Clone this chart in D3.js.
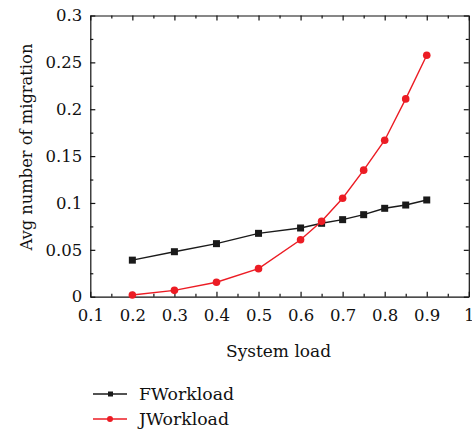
<!DOCTYPE html>
<html>
<head>
<meta charset="utf-8">
<script src="https://cdn.jsdelivr.net/npm/d3@7"></script>
<style>
  body { margin: 0; background: #fff; }
  svg text { font-family: "DejaVu Serif", serif; fill: #111; }
  .axis text { font-size: 16.5px; }
  .axis path, .axis line { stroke: #111; stroke-width: 1.2; }
</style>
</head>
<body>
<div id="vis"></div>
<script>
// values
var loads = [0.2, 0.3, 0.4, 0.5, 0.6, 0.65, 0.7, 0.75, 0.8, 0.85, 0.9];
var fWorkload = [0.039, 0.048, 0.0566, 0.0676, 0.0733, 0.0783, 0.0822, 0.0875, 0.0943, 0.0978, 0.1032];
var jWorkload = [0.0018, 0.0068, 0.0154, 0.0299, 0.0608, 0.0804, 0.105, 0.135, 0.1669, 0.211, 0.2576];
var xTicks = [0.1, 0.2, 0.3, 0.4, 0.5, 0.6, 0.7, 0.8, 0.9, 1];
var xMinor = [0.15, 0.25, 0.35, 0.45, 0.55, 0.65, 0.75, 0.85, 0.95];
var yTicks = [0, 0.05, 0.1, 0.15, 0.2, 0.25, 0.3];
var yMinor = [0.025, 0.075, 0.125, 0.175, 0.225, 0.275];
var seriesNames = ['FWorkload', 'JWorkload'];

(function() {
  var W = 472, H = 431;
  var left = 90.3, right = 468.8, top = 15.5, bottom = 296.7;
  var colors = ['#1a1a1a', '#ec1c24'];

  var svg = d3.select('#vis').append('svg').attr('width', W).attr('height', H);

  var x = d3.scaleLinear().domain([0.1, 1]).range([left, right]);
  var y = d3.scaleLinear().domain([0, 0.3]).range([bottom, top]);
  var fmt = function(d) { return String(+d.toFixed(3)); };

  var axes = [
    {ax: d3.axisBottom(x), t: 'translate(0,' + bottom + ')', major: xTicks, minor: xMinor, pad: 13},
    {ax: d3.axisTop(x), t: 'translate(0,' + top + ')', major: xTicks, minor: xMinor, pad: 0},
    {ax: d3.axisLeft(y), t: 'translate(' + left + ',0)', major: yTicks, minor: yMinor, pad: 8},
    {ax: d3.axisRight(y), t: 'translate(' + right + ',0)', major: yTicks, minor: yMinor, pad: 0}
  ];
  axes.forEach(function(a) {
    var g = svg.append('g').attr('class', 'axis').attr('transform', a.t);
    g.call(a.ax.tickValues(a.major).tickSizeInner(-5).tickSizeOuter(0).tickPadding(a.pad)
      .tickFormat(a.pad ? fmt : ''));
    g.attr('font-family', null).attr('font-size', null);
    var m = svg.append('g').attr('class', 'axis').attr('transform', a.t);
    m.call(a.ax.tickValues(a.minor).tickSizeInner(-3).tickSizeOuter(0).tickFormat(''));
    m.select('.domain').remove();
  });

  var line = d3.line().x(function(d) { return x(d[0]); }).y(function(d) { return y(d[1]); });
  var data = [fWorkload, jWorkload].map(function(vals) {
    return loads.map(function(l, i) { return [l, vals[i]]; });
  });

  data.forEach(function(pts, k) {
    svg.append('path').datum(pts).attr('d', line).attr('fill', 'none')
      .attr('stroke', colors[k]).attr('stroke-width', 1.4);
    if (k === 0) {
      svg.selectAll('rect.f').data(pts).enter().append('rect').attr('class', 'f')
        .attr('x', function(d) { return x(d[0]) - 3.5; }).attr('y', function(d) { return y(d[1]) - 3.5; })
        .attr('width', 7).attr('height', 7).attr('fill', colors[0]);
    } else {
      svg.selectAll('circle.j').data(pts).enter().append('circle').attr('class', 'j')
        .attr('cx', function(d) { return x(d[0]); }).attr('cy', function(d) { return y(d[1]); })
        .attr('r', 3.8).attr('fill', colors[1]);
    }
  });

  svg.append('text').attr('x', (left + right) / 2 - 1).attr('y', 357)
    .attr('text-anchor', 'middle').style('font-size', '17px').text('System load');
  svg.append('text').attr('transform', 'translate(32,' + ((top + bottom) / 2 - 9) + ') rotate(-90)')
    .attr('text-anchor', 'middle').style('font-size', '16.3px').text('Avg number of migration');

  // legend
  var leg = svg.append('g');
  seriesNames.forEach(function(name, k) {
    var ly = 394 + k * 25;
    leg.append('line').attr('x1', 93).attr('x2', 127).attr('y1', ly).attr('y2', ly)
      .attr('stroke', colors[k]).attr('stroke-width', 1.4);
    if (k === 0) {
      leg.append('rect').attr('x', 108).attr('y', ly - 2.5).attr('width', 5).attr('height', 5).attr('fill', colors[0]);
    } else {
      leg.append('circle').attr('cx', 110).attr('cy', ly).attr('r', 3).attr('fill', colors[1]);
    }
    leg.append('text').attr('x', 139).attr('y', ly + 6).style('font-size', '17.3px').text(name);
  });
})();
</script>
</body>
</html>
